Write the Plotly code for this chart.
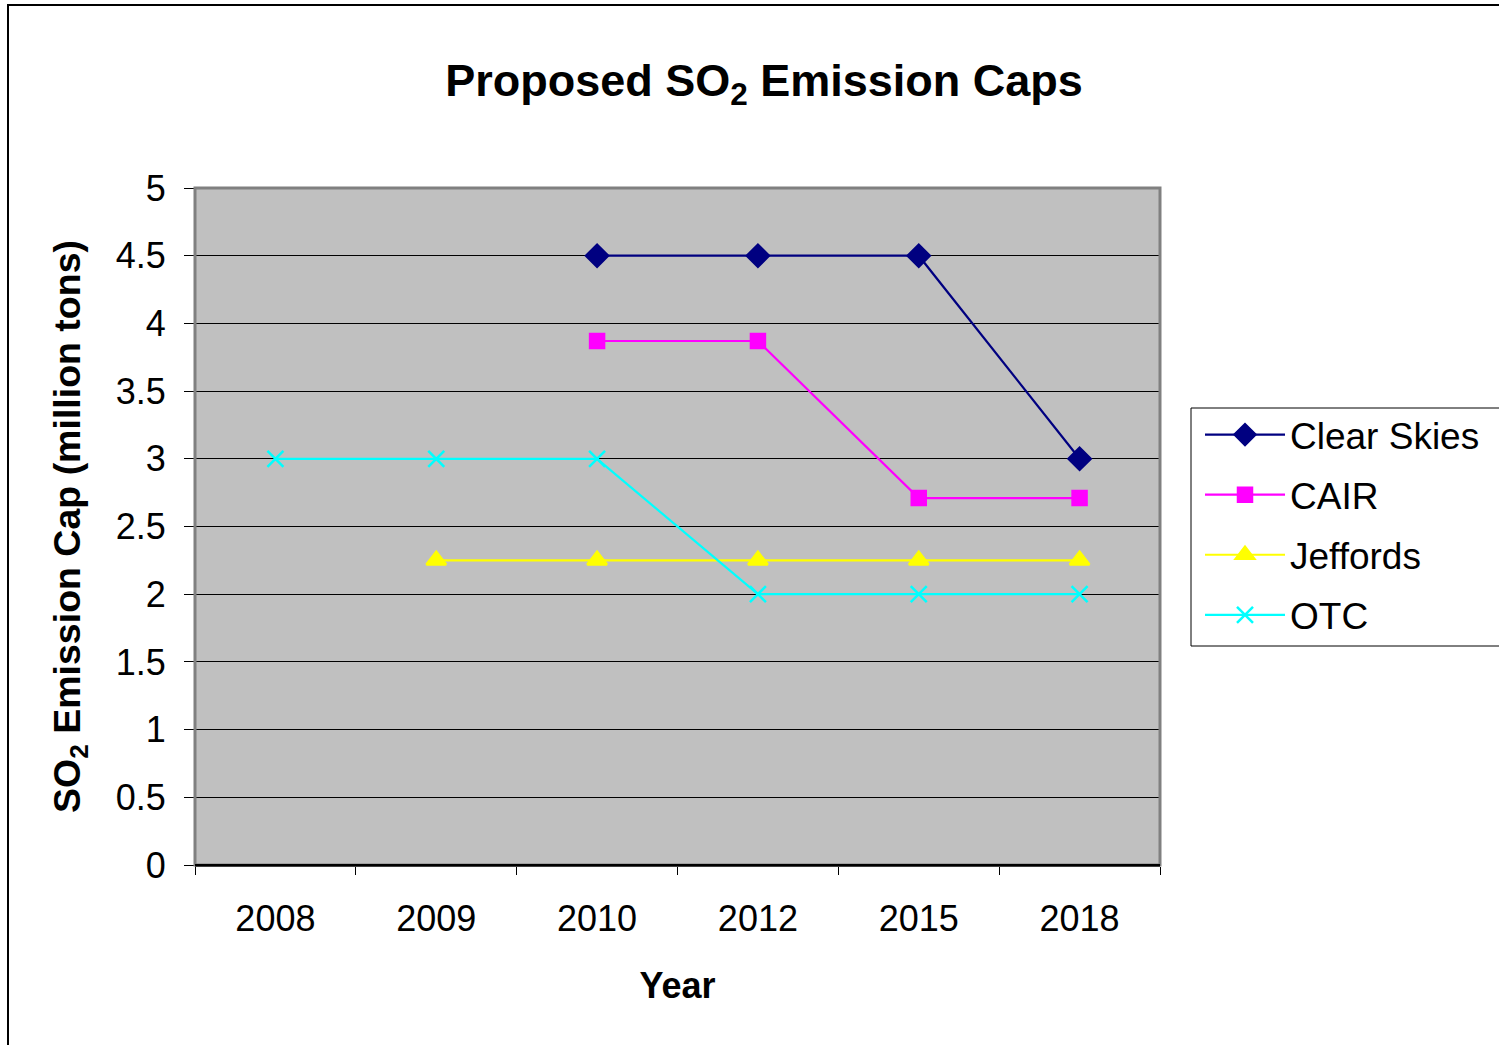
import plotly.graph_objects as go

years = ["2008", "2009", "2010", "2012", "2015", "2018"]
clear_skies = [None, None, 4.5, 4.5, 4.5, 3.0]
cair = [None, None, 3.87, 3.87, 2.71, 2.71]
jeffords = [None, 2.25, 2.25, 2.25, 2.25, 2.25]
otc = [3.0, 3.0, 3.0, 2.0, 2.0, 2.0]

series = [
    ("Clear Skies", clear_skies, "#000080", "diamond", 17),
    ("CAIR", cair, "#FF00FF", "square", 14),
    ("Jeffords", jeffords, "#FFFF00", "triangle-up", 17),
    ("OTC", otc, "#00FFFF", "x-thin-open", 16),
]

FONT = "Arial, Liberation Sans, Helvetica, sans-serif"

fig = go.Figure()
for name, vals, color, sym, size in series:
    fig.add_trace(go.Scatter(
        x=years, y=vals, name=name, mode="lines+markers",
        line=dict(color=color, width=2.2),
        marker=dict(symbol=sym, size=size, color=color,
                    line=dict(color=color, width=2.5)),
        legendgroup=name,
    ))

W, H = 1499, 1045
L, R, T, B = 195, 1160, 188, 865  # plot area in screen px
pw, ph = R - L, B - T

def px_x(x):
    return (x - L) / pw

def px_y(y):
    return (B - y) / ph

fig.update_layout(
    width=W, height=H,
    margin=dict(l=L, r=W - R, t=T, b=H - B, pad=0),
    paper_bgcolor="white",
    plot_bgcolor="#C0C0C0",
    font=dict(family=FONT, color="black", size=36),
    title=dict(
        text="<b>Proposed SO<sub>2</sub> Emission Caps</b>",
        x=764 / W, xref="container", xanchor="center",
        y=1 - 80 / H, yref="container", yanchor="middle",
        font=dict(size=45, family=FONT, color="black"),
    ),
    showlegend=True,
    legend=dict(
        x=px_x(1200), y=px_y(404), xanchor="left", yanchor="top",
        bgcolor="rgba(0,0,0,0)", borderwidth=0,
        font=dict(size=37, family=FONT, color="black"),
        traceorder="grouped", tracegroupgap=9,
        itemwidth=80,
    ),
    xaxis=dict(
        type="category",
        tickson="boundaries",
        ticks="outside", ticklen=8, tickwidth=1, tickcolor="black",
        ticklabelstandoff=21,
        showgrid=False,
        showline=True, linecolor="black", linewidth=2,
        tickfont=dict(size=36),
        title=dict(text="<b>Year</b>", font=dict(size=36), standoff=35),
        range=[-0.5, 5.5],
    ),
    yaxis=dict(
        range=[0, 5], dtick=0.5, tick0=0,
        ticks="outside", ticklen=10, tickwidth=1, tickcolor="black",
        ticklabelstandoff=11,
        showgrid=True, gridcolor="black", gridwidth=1,
        showline=False, zeroline=False,
        tickfont=dict(size=36),
        title=dict(text="<b>SO<sub>2</sub> Emission Cap (million tons)</b>",
                   font=dict(size=37.5), standoff=23),
    ),
    shapes=[
        dict(type="rect", xref="paper", yref="paper",
             x0=0, x1=1, y0=0, y1=1,
             line=dict(color="#808080", width=3), layer="above"),
        dict(type="line", xref="paper", yref="paper",
             x0=0, x1=1, y0=0, y1=0,
             line=dict(color="black", width=2), layer="above"),
        dict(type="rect", xref="paper", yref="paper",
             x0=px_x(8), x1=px_x(1530), y0=px_y(1070), y1=px_y(5),
             line=dict(color="black", width=2), layer="above"),
        dict(type="rect", xref="paper", yref="paper",
             x0=px_x(1191), x1=px_x(1530), y0=px_y(646), y1=px_y(408),
             line=dict(color="black", width=1), fillcolor="white",
             layer="above"),
    ],
)

fig.write_html("out.html", config={"displayModeBar": False},
               post_script="document.body.style.margin='0';")
